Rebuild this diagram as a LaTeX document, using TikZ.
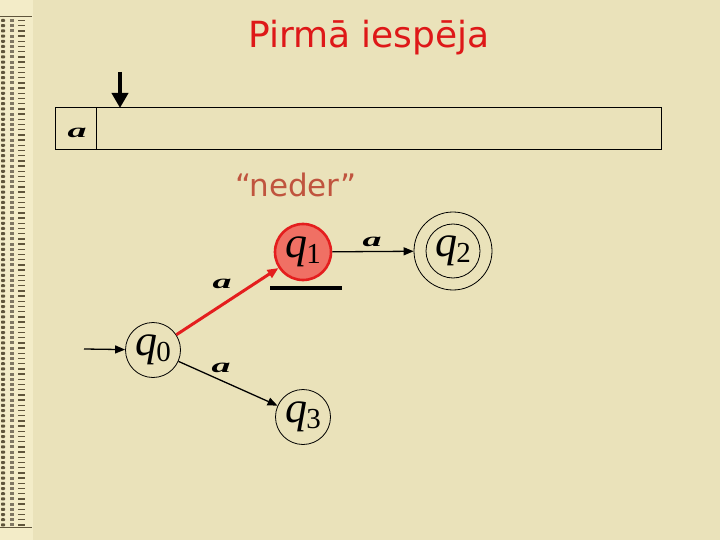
\documentclass[tikz,border=0pt]{standalone}
\usepackage{fontspec}
\setmainfont{Liberation Serif}
\newfontfamily\titlefont{DejaVu Sans}
\usetikzlibrary{arrows.meta}
\definecolor{bg}{RGB}{234,226,186}
\definecolor{stripbg}{RGB}{243,236,200}
\definecolor{stripmark}{RGB}{95,85,60}
\definecolor{titlered}{RGB}{222,24,24}
\definecolor{nederbrown}{RGB}{192,84,62}
\definecolor{qfill}{RGB}{240,112,100}
\definecolor{qborder}{RGB}{228,30,30}
\newcommand{\syma}{\scalebox{1.9}[1]{\fontsize{20}{20}\selectfont\bfseries\itshape a}}
\newcommand{\qlab}[1]{{\fontsize{44}{44}\selectfont\itshape q}\kern-1pt\raisebox{-6pt}{\fontsize{29}{29}\selectfont #1}}
\begin{document}
\begin{tikzpicture}[x=1pt,y=-1pt,
  state/.style={circle,draw=black,line width=0.8pt,minimum size=55pt,inner sep=0pt},
  active/.style={state,fill=qfill,draw=qborder,line width=2.6pt,minimum size=56pt},
  accout/.style={circle,draw=black,line width=0.8pt,minimum size=78pt,inner sep=0pt},
  accin/.style={circle,draw=black,line width=0.8pt,minimum size=54pt,inner sep=0pt},
  trans/.style={-{Triangle[length=10pt,width=8pt]},line width=1.3pt,black},
  redtrans/.style={-{Triangle[length=11pt,width=9pt]},line width=3pt,qborder},
  lab/.style={inner sep=0pt}
]
\useasboundingbox (0,0) rectangle (720,540);
\fill[bg] (0,0) rectangle (720,540);
% left decorative strip
\fill[stripbg] (0,0) rectangle (33,540);
\foreach \i in {0,...,97}{
  \pgfmathsetmacro{\yy}{19+5.2*\i}
  \fill[stripmark,rounded corners=0.8pt] (1,\yy) rectangle (5,\yy+3);
  \fill[stripmark!80] (10,\yy) rectangle (14,\yy+3);
  \fill[stripmark] (18,\yy+0.8) rectangle (25,\yy+2.2);
}
\draw[stripmark,line width=0.8pt] (0,16) -- (32,16);
\draw[stripmark,line width=0.8pt] (0,527) -- (32,527);
% title
\node[lab,text=titlered,font=\titlefont\fontsize{36}{36}\selectfont] (title) at (369,38) {Pirmā iespēja};
% tape
\draw[line width=1pt] (55,108) rectangle (661,150);
\draw[line width=1pt] (96,108) -- (96,150);
\node[lab] (tapea) at (77,133) {\syma};
% head
\coordinate (headtop) at (120,72);
\coordinate (headtip) at (120,108);
\draw[-{Triangle[length=15pt,width=16pt]},line width=4pt] (headtop) -- (headtip);
% neder
\node[lab,text=nederbrown,font=\titlefont\fontsize{31}{31}\selectfont] (neder) at (296,185) {“neder”};
% states
\node[state] (q0) at (153,350) {\qlab{0}};
\node[active] (q1) at (303,252) {\qlab{1}};
\node[accout] (q2) at (453,251) {};
\node[accin] (q2in) at (453,251) {\qlab{2}};
\node[state] (q3) at (303,417) {\qlab{3}};
% bar under q1
\coordinate (barl) at (270,288);
\coordinate (barr) at (342,288);
\draw[line width=4.5pt] (barl) -- (barr);
% initial arrow
\coordinate (init) at (84,349);
\draw[trans] (init) -- (q0);
% transitions
\draw[redtrans] (q0) -- (q1);
\draw[trans] (q1) -- (q2);
\draw[trans] (q0) -- (q3);
\node[lab] (a01) at (222,284) {\syma};
\node[lab] (a12) at (372,242) {\syma};
\node[lab] (a03) at (221,368) {\syma};
\end{tikzpicture}
\end{document}
